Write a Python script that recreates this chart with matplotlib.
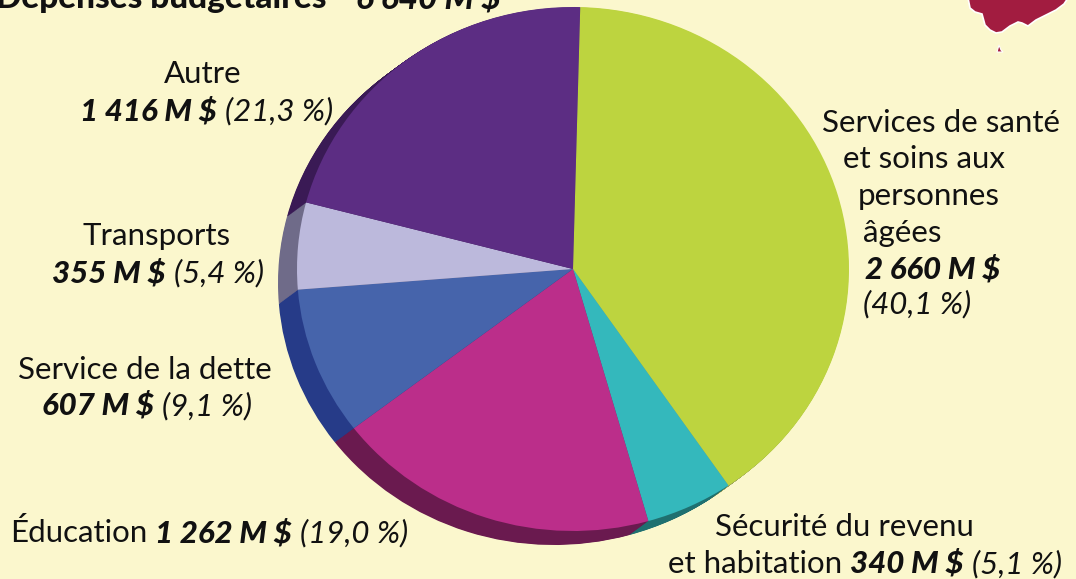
import matplotlib
matplotlib.use("Agg")
import matplotlib.pyplot as plt
from matplotlib.patches import Polygon

# ---------------- data ----------------
categories = ["Services de santé et soins aux personnes âgées",
              "Sécurité du revenu et habitation",
              "Éducation",
              "Service de la dette",
              "Transports",
              "Autre"]
values_musd = [2660, 340, 1262, 607, 355, 1416]
percents = [40.1, 5.1, 19.0, 9.1, 5.4, 21.3]
total_musd = 6640
title_text = "Dépenses budgétaires"

top_colors = ["#bdd43f", "#34b8bc", "#bb2e8a", "#4664ab", "#bcb9dc", "#5c2d83"]
side_colors = ["#9aa25a", "#1f7070", "#6a1a4f", "#263b88", "#6f6b89", "#3a1a55"]
BG = "#fbf7cd"
FONT = "Lato"

W, H = 1076, 579
fig = plt.figure(figsize=(W / 100, H / 100), dpi=100, facecolor=BG)

# ---------------- pie (elliptical top face + extruded side) ----------------
cx, cy = 573, 269          # centre in pixels (from top)
rx, ry = 276, 262          # radii in pixels
lim = 1.2
ax = fig.add_axes([(cx - lim * rx) / W, (H - cy - lim * ry) / H,
                   2 * lim * rx / W, 2 * lim * ry / H])
ax.set_facecolor("none")
off_x, off_y = -19 / rx, -14 / ry
nlay = 30
for i in range(nlay, 0, -1):
    t = i / nlay
    ax.pie(values_musd, colors=side_colors, startangle=88.5, counterclock=False,
           center=(off_x * t, off_y * t), radius=1.0,
           wedgeprops=dict(linewidth=0))
ax.pie(values_musd, colors=top_colors, startangle=88.5, counterclock=False,
       center=(0, 0), radius=1.0, wedgeprops=dict(linewidth=0))
ax.set_aspect("auto")
ax.set_xlim(-lim, lim)
ax.set_ylim(-lim, lim)
ax.axis("off")

# ---------------- decoration: map fragment top-right ----------------
deco = fig.add_axes([0, 0, 1, 1], facecolor="none")
deco.set_xlim(0, W)
deco.set_ylim(H, 0)
deco.axis("off")
blob = [(968, -2), (970, 8), (975, 12), (982, 14), (985, 25), (990, 30), (996, 33),
        (1002, 32), (1010, 26), (1018, 22), (1022, 23), (1028, 26), (1036, 20),
        (1046, 15), (1056, 10), (1064, 4), (1068, -2)]
deco.add_patch(Polygon(blob, closed=True, facecolor="#a21c40",
                       edgecolor="white", linewidth=1.2, zorder=5))
deco.add_patch(Polygon([(999, 45), (1001, 50), (1003, 52), (997, 52)], closed=True,
                       facecolor="#a21c40", edgecolor="white", linewidth=0.8, zorder=5))

# ---------------- text helpers ----------------
renderer = fig.canvas.get_renderer()
FS = 22.5


def fx(x):
    return x / W


def fy(y):
    return 1 - y / H


def rich(x, y, pieces, ha="left", size=FS):
    """pieces: list of (text, weight, style); x,y in pixels (y from top, baseline)."""
    txts = []
    widths = []
    for s, wt, st in pieces:
        t = fig.text(fx(x), fy(y), s, fontsize=size, fontweight=wt, fontstyle=st,
                     family=FONT, va="baseline", ha="left", color="#111111")
        txts.append(t)
        widths.append(t.get_window_extent(renderer).width)
    a = fig.text(0, 0, "xx", fontsize=size, family=FONT)
    b = fig.text(0, 0, "x x", fontsize=size, family=FONT)
    gap = b.get_window_extent(renderer).width - a.get_window_extent(renderer).width
    a.remove(); b.remove()
    total = sum(widths) + gap * (len(pieces) - 1)
    start = x if ha == "left" else (x - total / 2 if ha == "center" else x - total)
    cur = start
    for t, w in zip(txts, widths):
        t.set_x(fx(cur))
        cur += w + gap


def money(v):
    s = f"{v:,}".replace(",", " ")
    return f"{s} M $"


def pct(p):
    return "(" + f"{p:.1f}".replace(".", ",") + " %)"


N = "normal"
B = "black"
I = "italic"

# Title (partly cut at the top, as in the original)
rich(-4, 8, [(title_text, "black", N), ("-", "black", N),
             (money(total_musd), "black", I)], size=24)

# Autre
rich(203, 83, [("Autre", N, N)], ha="center")
rich(80, 120, [(money(values_musd[5]), B, I), (pct(percents[5]), N, I)])
# Transports
rich(157, 245, [("Transports", N, N)], ha="center")
rich(52, 282, [(money(values_musd[4]), B, I), (pct(percents[4]), N, I)])
# Service de la dette
rich(18, 379, [("Service de la dette", N, N)])
rich(42, 415, [(money(values_musd[3]), B, I), (pct(percents[3]), N, I)])
# Education
rich(10, 542, [("Éducation", N, N), (money(values_musd[2]), B, I),
               (pct(percents[2]), N, I)])
# Securite du revenu
rich(715, 536, [("Sécurité du revenu", N, N)])
rich(668, 573, [("et habitation", N, N), (money(values_musd[1]), B, I),
                (pct(percents[1]), N, I)])
# Sante
rich(822, 132, [("Services de santé", N, N)])
rich(843, 168, [("et soins aux", N, N)])
rich(858, 205, [("personnes", N, N)])
rich(863, 242, [("âgées", N, N)])
rich(865, 278, [(money(values_musd[0]), B, I)])
rich(863, 313, [(pct(percents[0]), N, I)])

fig.savefig("out.png", dpi=100, facecolor=BG)
